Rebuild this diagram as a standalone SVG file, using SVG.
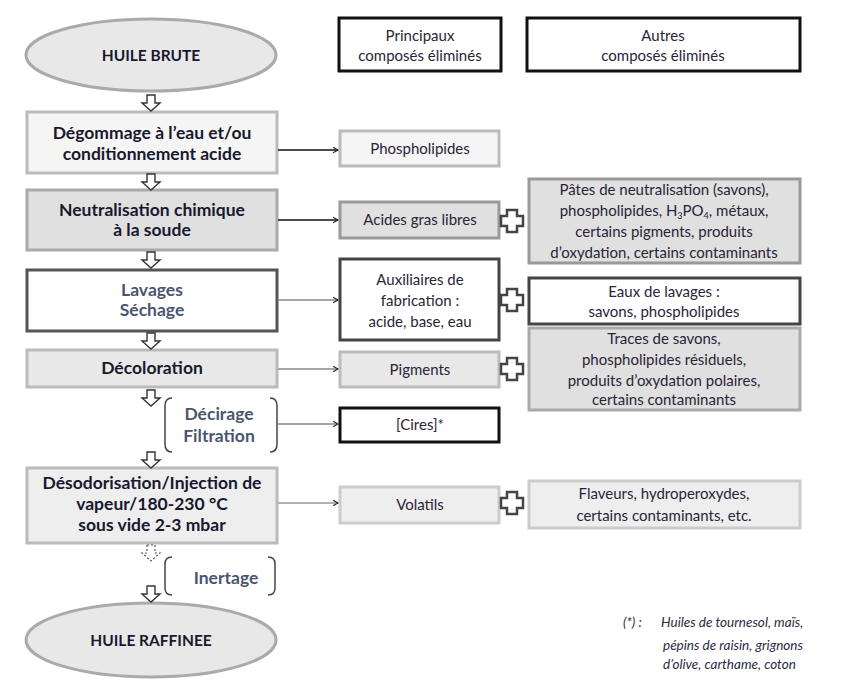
<svg xmlns="http://www.w3.org/2000/svg" width="850" height="700" viewBox="0 0 850 700">
<defs>
<style>
.main{font-family:Lato,"Liberation Sans",sans-serif;font-weight:bold;font-size:17.5px;fill:#18182e;text-anchor:middle}
.caps{font-family:Lato,"Liberation Sans",sans-serif;font-weight:bold;font-size:15.5px;fill:#18182e;text-anchor:middle}
.soft{font-family:Lato,"Liberation Sans",sans-serif;font-weight:bold;font-size:17.5px;fill:#4a5670;text-anchor:middle}
.side{font-family:Lato,"Liberation Sans",sans-serif;font-size:15px;fill:#2a2438;text-anchor:middle}
.note{font-family:Lato,"Liberation Sans",sans-serif;font-style:italic;font-size:13.5px;fill:#2a2a44}
.darr{fill:#fff;stroke:#333;stroke-width:1.4}
.plus{fill:#fff;stroke:#444;stroke-width:2.5}
.conn{fill:none;stroke-width:1.5}
</style>
<marker id="ah" viewBox="0 0 10 10" refX="9" refY="5" markerWidth="7" markerHeight="7" markerUnits="userSpaceOnUse" orient="auto">
<path d="M2,1 L9,5 L2,9" fill="none" stroke="#222" stroke-width="1.6"/>
</marker>
<path id="da" d="M-4,0 h8 v8 h5 l-9,8 l-9,-8 h5 z"/>
<path id="pl" d="M-5,-11 h10 v6 h6 v10 h-6 v6 h-10 v-6 h-6 v-10 h6 z"/>
</defs>
<rect width="850" height="700" fill="#fff"/>

<g id="huile-brute">
<ellipse cx="151" cy="55" rx="125" ry="36" fill="#e8e8e8" stroke="#aaa" stroke-width="3"/>
<text class="caps" x="151" y="61">HUILE BRUTE</text>
</g>

<g id="degommage">
<rect x="27" y="112" width="250" height="61" fill="#f5f5f5" stroke="#bbb" stroke-width="3"/>
<text class="main" x="152" y="139">Dégommage à l’eau et/ou</text>
<text class="main" x="152" y="160">conditionnement acide</text>
</g>

<g id="neutralisation">
<rect x="27" y="190" width="250" height="60" fill="#e0e0e0" stroke="#aaa" stroke-width="3"/>
<text class="main" x="152" y="216">Neutralisation chimique</text>
<text class="main" x="152" y="236">à la soude</text>
</g>

<g id="lavages">
<rect x="27" y="270" width="250" height="61" fill="#fff" stroke="#555" stroke-width="3"/>
<text class="soft" x="152" y="296">Lavages</text>
<text class="soft" x="152" y="316">Séchage</text>
</g>

<g id="decoloration">
<rect x="27" y="350" width="250" height="37" fill="#e8e8e8" stroke="#bbb" stroke-width="3"/>
<text class="main" x="152" y="374">Décoloration</text>
</g>

<g id="decirage">
<path d="M172,398 Q165,398 165,406 V444 Q165,452 172,452" fill="none" stroke="#444" stroke-width="1.5"/>
<path d="M270,398 Q277,398 277,406 V444 Q277,452 270,452" fill="none" stroke="#444" stroke-width="1.5"/>
<text class="soft" x="219" y="420">Décirage</text>
<text class="soft" x="219" y="442">Filtration</text>
</g>

<g id="desodorisation">
<rect x="27" y="468" width="250" height="75" fill="#eeeeee" stroke="#bbb" stroke-width="3"/>
<text class="main" x="152" y="489">Désodorisation/Injection de</text>
<text class="main" x="152" y="510">vapeur/180-230 °C</text>
<text class="main" x="152" y="531">sous vide 2-3 mbar</text>
</g>

<g id="inertage">
<path d="M172,557 Q165,557 165,564 V588 Q165,595 172,595" fill="none" stroke="#444" stroke-width="1.5"/>
<path d="M268,557 Q275,557 275,564 V588 Q275,595 268,595" fill="none" stroke="#444" stroke-width="1.5"/>
<text class="soft" x="226" y="584">Inertage</text>
</g>

<g id="huile-raffinee">
<ellipse cx="151" cy="640" rx="125" ry="37" fill="#e8e8e8" stroke="#aaa" stroke-width="3"/>
<text class="caps" x="151" y="646">HUILE RAFFINEE</text>
</g>

<g id="hdr-principaux">
<rect x="339" y="18" width="162" height="53" fill="#fff" stroke="#111" stroke-width="3"/>
<text class="side" x="420" y="41">Principaux</text>
<text class="side" x="420" y="61">composés éliminés</text>
</g>

<g id="hdr-autres">
<rect x="527" y="18" width="273" height="53" fill="#fff" stroke="#111" stroke-width="3"/>
<text class="side" x="663" y="41">Autres</text>
<text class="side" x="663" y="61">composés éliminés</text>
</g>

<g id="phospholipides">
<rect x="340" y="131" width="159" height="35" fill="#f5f5f5" stroke="#bbb" stroke-width="3"/>
<text class="side" x="420" y="154">Phospholipides</text>
</g>

<g id="acides-gras">
<rect x="340" y="202" width="159" height="36" fill="#e0e0e0" stroke="#999" stroke-width="3"/>
<text class="side" x="420" y="225">Acides gras libres</text>
</g>

<g id="pates">
<rect x="529" y="179" width="271" height="84" fill="#e0e0e0" stroke="#999" stroke-width="3"/>
<text class="side" x="664" y="195">Pâtes de neutralisation (savons),</text>
<text class="side" x="664" y="216">phospholipides, H<tspan font-size="9" dy="3">3</tspan><tspan dy="-3">PO</tspan><tspan font-size="9" dy="3">4</tspan><tspan dy="-3">, métaux,</tspan></text>
<text class="side" x="664" y="237">certains pigments, produits</text>
<text class="side" x="664" y="258">d’oxydation, certains contaminants</text>
</g>

<g id="auxiliaires">
<rect x="340" y="259" width="159" height="81" fill="#fff" stroke="#444" stroke-width="3"/>
<text class="side" x="420" y="285">Auxiliaires de</text>
<text class="side" x="420" y="306">fabrication :</text>
<text class="side" x="420" y="327">acide, base, eau</text>
</g>

<g id="eaux">
<rect x="529" y="278" width="271" height="46" fill="#fff" stroke="#444" stroke-width="3"/>
<text class="side" x="664" y="297">Eaux de lavages :</text>
<text class="side" x="664" y="317">savons, phospholipides</text>
</g>

<g id="pigments">
<rect x="340" y="352" width="159" height="35" fill="#e8e8e8" stroke="#bbb" stroke-width="3"/>
<text class="side" x="420" y="375">Pigments</text>
</g>

<g id="traces">
<rect x="529" y="328" width="271" height="82" fill="#e0e0e0" stroke="#aaa" stroke-width="3"/>
<text class="side" x="664" y="344">Traces de savons,</text>
<text class="side" x="664" y="365">phospholipides résiduels,</text>
<text class="side" x="664" y="386">produits d’oxydation polaires,</text>
<text class="side" x="664" y="405">certains contaminants</text>
</g>

<g id="cires">
<rect x="340" y="408" width="159" height="34" fill="#fff" stroke="#111" stroke-width="3"/>
<text class="side" x="420" y="430">[Cires]*</text>
</g>

<g id="volatils">
<rect x="340" y="487" width="159" height="36" fill="#eeeeee" stroke="#ccc" stroke-width="3"/>
<text class="side" x="420" y="510">Volatils</text>
</g>

<g id="flaveurs">
<rect x="529" y="481" width="271" height="47" fill="#eeeeee" stroke="#ccc" stroke-width="3"/>
<text class="side" x="664" y="499">Flaveurs, hydroperoxydes,</text>
<text class="side" x="664" y="521">certains contaminants, etc.</text>
</g>

<g id="footnote">
<text class="note" x="623" y="627">(*) :</text>
<text class="note" x="661" y="627">Huiles de tournesol, maïs,</text>
<text class="note" x="663" y="650">pépins de raisin, grignons</text>
<text class="note" x="663" y="669">d’olive, carthame, coton</text>
</g>

<g id="connectors">
<use href="#da" class="darr" x="151" y="95"/>
<use href="#da" class="darr" x="151" y="174"/>
<use href="#da" class="darr" x="151" y="252"/>
<use href="#da" class="darr" x="151" y="333"/>
<use href="#da" class="darr" x="151" y="390"/>
<use href="#da" class="darr" x="151" y="452"/>
<use href="#da" x="151" y="545" fill="#fff" stroke="#555" stroke-width="1.2" stroke-dasharray="2,2"/>
<use href="#da" class="darr" x="151" y="586"/>
<line class="conn" x1="278" y1="150" x2="338" y2="150" stroke="#111" marker-end="url(#ah)"/>
<line class="conn" x1="278" y1="220" x2="338" y2="220" stroke="#111" marker-end="url(#ah)"/>
<line class="conn" x1="278" y1="300" x2="338" y2="300" stroke="#888" marker-end="url(#ah)"/>
<line class="conn" x1="278" y1="369" x2="338" y2="369" stroke="#888" marker-end="url(#ah)"/>
<line class="conn" x1="278" y1="424" x2="338" y2="424" stroke="#888" marker-end="url(#ah)"/>
<line class="conn" x1="278" y1="503" x2="338" y2="503" stroke="#999" marker-end="url(#ah)"/>
<use href="#pl" class="plus" x="512" y="221"/>
<use href="#pl" class="plus" x="512" y="300"/>
<use href="#pl" class="plus" x="512" y="369"/>
<use href="#pl" class="plus" x="512" y="503"/>
</g>
</svg>
